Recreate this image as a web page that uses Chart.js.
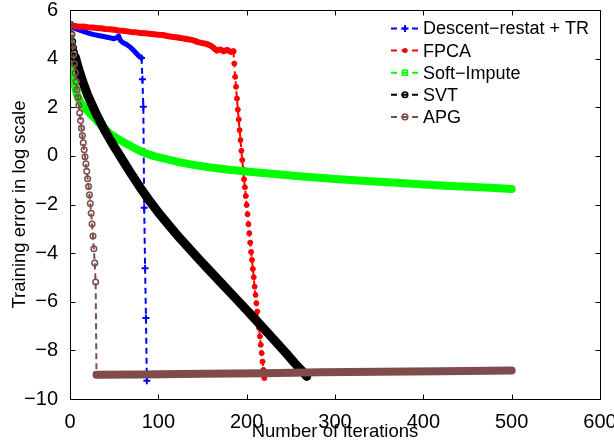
<!DOCTYPE html>
<html><head><meta charset="utf-8">
<script src="https://cdn.jsdelivr.net/npm/chart.js@4.4.1/dist/chart.umd.min.js"></script>
<style>html,body{margin:0;padding:0;background:#fff;}#wrap{width:614px;height:445px;}</style>
</head><body><div id="wrap"><canvas id="c" width="614" height="445"></canvas></div>
<script>
// ---- data ----
const xTicks = [0, 100, 200, 300, 400, 500, 600];
const yTicks = [-10, -8, -6, -4, -2, 0, 2, 4, 6];
const seriesNames = ['Descent\u2212restat + TR', 'FPCA', 'Soft\u2212Impute', 'SVT', 'APG'];

const descentIter = [0,5,10,15,20,26,32,38,45,50,53,55,57,60,64,68,72,76,79,81,82,83,84,85,86,87];
const descentErr  = [5.35,5.25,5.18,5.12,5.06,5.0,4.95,4.91,4.86,4.82,4.86,4.93,4.75,4.66,4.58,4.48,4.34,4.18,4.07,4.03,3.15,2.02,-2.13,-4.62,-6.67,-9.25];

const fpcaIter = [0,5,10,15,20,25,30,35,40,45,50,55,60,65,70,75,80,85,90,95,100,105,110,115,120,125,130,135,140,145,150,155,160,163,166,170,174,178,182,185,
  186,187,188,189,190,191,192,193,194,195,196,197,198,199,200,201,202,203,204,205,206,207,208,209,210,211,212,213,214,215,216,217,218,219,220];
const fpcaErr  = [5.33,5.34,5.31,5.32,5.29,5.28,5.26,5.25,5.22,5.21,5.19,5.16,5.15,5.12,5.09,5.08,5.05,5.04,5.02,5.0,4.98,4.97,4.93,4.9,4.88,4.85,4.82,4.79,4.75,4.68,4.64,4.6,4.52,4.43,4.33,4.38,4.3,4.36,4.27,4.3,
  3.8,3.25,2.84,2.36,1.9,1.5,1.06,0.65,0.21,-0.17,-0.55,-0.96,-1.29,-1.65,-2.02,-2.4,-2.81,-3.18,-3.57,-3.95,-4.28,-4.65,-4.99,-5.38,-5.72,-6.06,-6.4,-6.77,-7.08,-7.43,-7.77,-8.11,-8.46,-8.8,-9.14];

const softIter = [0,2,4,6,8,12,16,20,26,35,45,55,64,75,83,95,102,121,140,157,180,200,215,238,260,300,340,370,400,430,470,500];
const softErr  = [4.7,3.85,3.2,2.8,2.5,2.2,2.0,1.85,1.62,1.27,0.92,0.68,0.5,0.28,0.14,-0.01,-0.07,-0.24,-0.37,-0.47,-0.57,-0.64,-0.69,-0.77,-0.84,-0.95,-1.04,-1.11,-1.18,-1.24,-1.3,-1.36];

const svtIter = [1,2,3,4,5,6,8,10,15,20,30,40,50,60,70,80,91,102,113,124,136,146,157,170,180,192,204,215,225,234,245,255,262,268];
const svtErr  = [5.4,5.0,4.7,4.45,4.25,4.07,3.8,3.55,3.0,2.5,1.7,1.0,0.38,-0.2,-0.78,-1.33,-1.9,-2.42,-2.9,-3.37,-3.85,-4.25,-4.68,-5.18,-5.57,-6.03,-6.5,-6.93,-7.33,-7.69,-8.13,-8.55,-8.82,-9.07];

const apgIter = [1,2,3,4,5,6,7,8,9,10,11,12,13,14,15,16,17,18,19,20,21,22,23,24,25,26,27,28,29,30,80,150,220,283,350,420,500];
const apgErr  = [5.4,4.98,4.56,4.16,3.78,3.42,3.06,2.72,2.4,2.08,1.76,1.45,1.14,0.84,0.54,0.25,-0.04,-0.33,-0.63,-0.94,-1.26,-1.6,-1.96,-2.36,-2.8,-3.3,-3.82,-4.41,-5.19,-9.0,-8.99,-8.96,-8.94,-8.9,-8.88,-8.86,-8.83];

// ---- helpers ----
const FONT = '"Liberation Sans", Arial, Helvetica, sans-serif';
const toPoints = (xs, ys) => xs.map((x, i) => ({x: x, y: ys[i]}));
const single = ctx => {
  const d = ctx.dataset.data, i = ctx.dataIndex;
  if (!d || !d[i]) return false;
  return (i > 0 && d[i].x - d[i-1].x === 1) || (i < d.length - 1 && d[i+1].x - d[i].x === 1);
};
const isBand = ctx => (ctx.p1.parsed.x - ctx.p0.parsed.x) > 1;

function makeSet(name, iters, errs, color, style, order) {
  return {
    label: name,
    data: toPoints(iters, errs),
    borderColor: color,
    backgroundColor: color,
    borderWidth: 2,
    borderDash: [6, 4],
    borderJoinStyle: 'round',
    tension: 0,
    fill: false,
    order: order,
    pointStyle: style.shape,
    pointRadius: ctx => single(ctx) ? style.r : 0,
    pointBorderWidth: style.lw,
    pointBorderColor: color,
    pointBackgroundColor: style.filled ? color : 'rgba(0,0,0,0)',
    markerStyle: style,
    segment: {
      borderWidth: ctx => isBand(ctx) ? style.band : 2,
      borderDash: ctx => isBand(ctx) ? [] : [6, 4],
      borderCapStyle: ctx => isBand(ctx) ? 'round' : 'butt'
    }
  };
}

const datasets = [
  makeSet(seriesNames[0], descentIter, descentErr, '#0000ff', {shape: 'cross', r: 3.5, lw: 2, filled: false, band: 5}, 5),
  makeSet(seriesNames[1], fpcaIter, fpcaErr, '#ff0000', {shape: 'circle', r: 2.5, lw: 1, filled: true, band: 6}, 4),
  makeSet(seriesNames[2], softIter, softErr, '#00ff00', {shape: 'rect', r: 2.5, lw: 1.5, filled: false, band: 8}, 3),
  makeSet(seriesNames[3], svtIter, svtErr, '#000000', {shape: 'circle', r: 2.8, lw: 1.5, filled: false, band: 9}, 2),
  makeSet(seriesNames[4], apgIter, apgErr, '#7f4c4c', {shape: 'circle', r: 2.8, lw: 1.5, filled: false, band: 8}, 1)
];

const fmt = v => String(v).replace('-', '\u2212');

// box + inward ticks
const boxPlugin = {
  id: 'box',
  afterDatasetsDraw(chart) {
    const {ctx, chartArea: a, scales} = chart;
    const L = Math.round(a.left) + 0.5, R = Math.round(a.right) + 0.5;
    const T = Math.round(a.top) + 0.5, B = Math.round(a.bottom) + 0.5;
    ctx.save();
    ctx.strokeStyle = '#000'; ctx.lineWidth = 1; ctx.setLineDash([]);
    ctx.strokeRect(L, T, R - L, B - T);
    const tl = 5;
    ctx.beginPath();
    xTicks.forEach(v => {
      const p = Math.round(scales.x.getPixelForValue(v)) + 0.5;
      ctx.moveTo(p, B); ctx.lineTo(p, B - tl);
      ctx.moveTo(p, T); ctx.lineTo(p, T + tl);
    });
    yTicks.forEach(v => {
      const p = Math.round(scales.y.getPixelForValue(v)) + 0.5;
      ctx.moveTo(L, p); ctx.lineTo(L + tl, p);
      ctx.moveTo(R, p); ctx.lineTo(R - tl, p);
    });
    ctx.stroke();
    ctx.restore();
  }
};

function drawMarker(ctx, st, color, x, y) {
  ctx.save();
  ctx.setLineDash([]);
  ctx.strokeStyle = color; ctx.fillStyle = color; ctx.lineWidth = st.lw;
  if (st.shape === 'cross') {
    ctx.beginPath();
    ctx.moveTo(x - st.r, y); ctx.lineTo(x + st.r, y);
    ctx.moveTo(x, y - st.r); ctx.lineTo(x, y + st.r);
    ctx.stroke();
  } else if (st.shape === 'rect') {
    ctx.strokeRect(x - st.r, y - st.r, 2 * st.r, 2 * st.r);
  } else {
    ctx.beginPath(); ctx.arc(x, y, st.r, 0, Math.PI * 2);
    if (st.filled) ctx.fill(); else ctx.stroke();
  }
  ctx.restore();
}

const legendPlugin = {
  id: 'matlabLegend',
  afterDraw(chart) {
    const ctx = chart.ctx;
    const x0 = 391, x1 = 419, tx = 423, y0 = 28.5, dy = 22.1;
    chart.data.datasets.forEach((ds, i) => {
      const y = y0 + i * dy;
      ctx.save();
      ctx.strokeStyle = ds.borderColor; ctx.lineWidth = 2;
      ctx.setLineDash([6, 4.5]);
      ctx.beginPath(); ctx.moveTo(x0, y); ctx.lineTo(x1, y); ctx.stroke();
      ctx.restore();
      drawMarker(ctx, ds.markerStyle, ds.borderColor, (x0 + x1) / 2, y);
      ctx.save();
      ctx.fillStyle = '#000';
      ctx.font = '18px ' + FONT;
      ctx.textBaseline = 'middle';
      ctx.textAlign = 'left';
      ctx.fillText(ds.label, tx, y + 1);
      ctx.restore();
    });
  }
};

new Chart(document.getElementById('c'), {
  type: 'line',
  data: {datasets: datasets},
  options: {
    responsive: false,
    animation: false,
    events: [],
    parsing: true,
    layout: {padding: {top: 10, right: 14, left: 0, bottom: 0}},
    plugins: {legend: {display: false}, tooltip: {enabled: false}},
    scales: {
      x: {
        type: 'linear', min: 0, max: 600,
        afterBuildTicks: s => { s.ticks = xTicks.map(v => ({value: v})); },
        ticks: {font: {family: FONT, size: 20}, color: '#000', padding: 3, maxRotation: 0, autoSkip: false, callback: fmt},
        grid: {display: false}, border: {display: false},
        title: {display: true, text: 'Number of iterations', color: '#000', font: {family: FONT, size: 18.5}, padding: {top: 0, bottom: 1.5}},
        afterFit: s => { s.height = 46; s.paddingLeft = 0; s.paddingRight = 0; }
      },
      y: {
        type: 'linear', min: -10, max: 6,
        afterBuildTicks: s => { s.ticks = yTicks.map(v => ({value: v})); },
        ticks: {font: {family: FONT, size: 20}, color: '#000', padding: 4, autoSkip: false, callback: fmt},
        grid: {display: false}, border: {display: false},
        title: {display: true, text: 'Training error in log scale', color: '#000', font: {family: FONT, size: 18.5}, padding: {top: 9, bottom: 0}},
        afterFit: s => { s.width = 70; s.paddingTop = 0; s.paddingBottom = 0; }
      }
    }
  },
  plugins: [boxPlugin, legendPlugin]
});
</script>
</body></html>
